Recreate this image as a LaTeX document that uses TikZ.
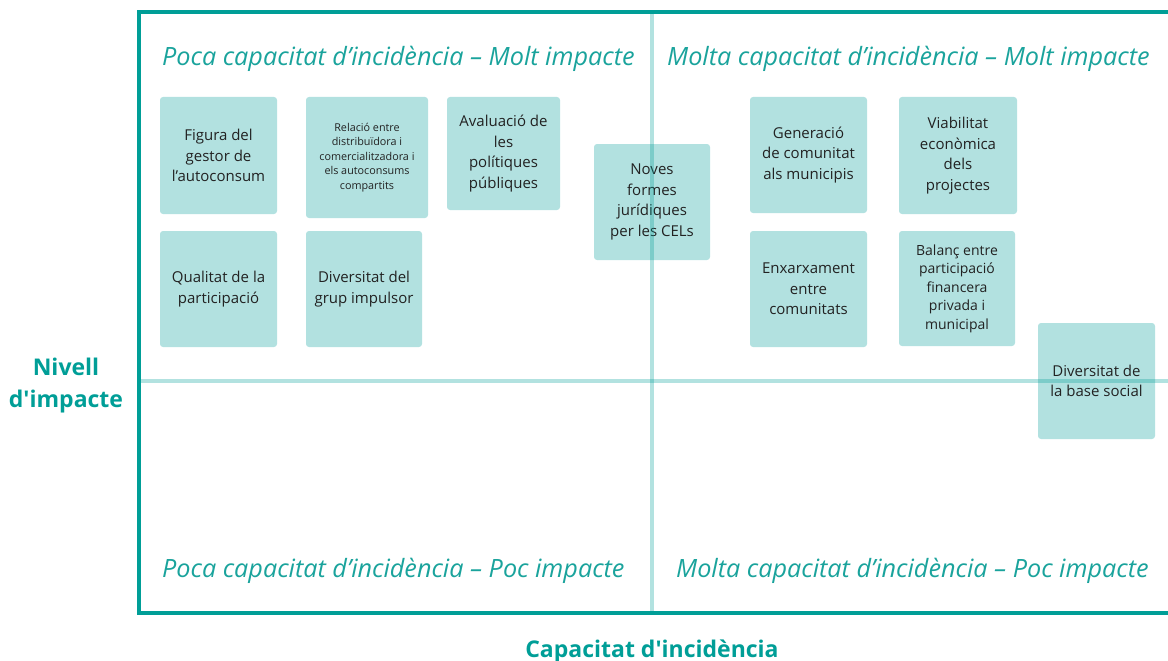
\documentclass[tikz,border=0pt]{standalone}
\usepackage{fontspec}
\setmainfont{Open Sans}
\definecolor{frameteal}{HTML}{009E97}
\definecolor{titleteal}{HTML}{1AA39C}
\definecolor{boxfill}{HTML}{B2E1E0}
\definecolor{boxtext}{HTML}{222222}

\begin{document}
\begin{tikzpicture}[x=1pt,y=-1pt]

        \useasboundingbox (0,0) rectangle (1168,661);

        \begin{scope}[every node/.style={fill=boxfill,rounded corners=3pt,align=center,
            text=boxtext,inner sep=0pt,font=\fontsize{15}{20.5}\selectfont}]
          \node[minimum width=117pt,minimum height=117pt] (gestor)   at (218.5,155.5) {Figura del\\gestor de\\l’autoconsum};
          \node[minimum width=122pt,minimum height=121pt,font=\fontsize{10.8}{14.6}\selectfont]
                                                          (relacio)  at (367,157.5)   {Relació entre\\distribuïdora i\\comercialitzadora i\\els autoconsums\\compartits};
          \node[minimum width=113pt,minimum height=113pt] (politiq)  at (503.5,153.5) {Avaluació de\\les\\polítiques\\públiques};
          \node[minimum width=116pt,minimum height=116pt] (formes)   at (652,202)     {Noves\\formes\\jurídiques\\per les CELs};
          \node[minimum width=117pt,minimum height=116pt] (qualitat) at (218.5,289)   {Qualitat de la\\participació};
          \node[minimum width=116pt,minimum height=116pt] (grup)     at (364,289)     {Diversitat del\\grup impulsor};
          \node[minimum width=117pt,minimum height=116pt] (generac)  at (808.5,155)   {Generació\\de comunitat\\als municipis};
          \node[minimum width=118pt,minimum height=117pt] (viabil)   at (958,155.5)   {Viabilitat\\econòmica\\dels\\projectes};
          \node[minimum width=117pt,minimum height=116pt] (xarxa)    at (808.5,289)   {Enxarxament\\entre\\comunitats};
          \node[minimum width=116pt,minimum height=115pt,font=\fontsize{14}{18.5}\selectfont]
                                                          (balanc)   at (957,288.5)   {Balanç entre\\participació\\financera\\privada i\\municipal};
          \node[minimum width=117pt,minimum height=116pt] (base)     at (1096.5,381)  {Diversitat de\\la base social};
        \end{scope}

        % quadrant dividers
        \draw[frameteal,opacity=0.3,line width=4pt] (652,14) -- (652,611);
        \draw[frameteal,opacity=0.3,line width=4pt] (141,381) -- (1168,381);

        % frame
        \draw[frameteal,line width=4.5pt] (1168,12) -- (139,12) -- (139,613) -- (1168,613);

        \begin{scope}[every node/.style={anchor=west,inner sep=0pt,text=titleteal,
            font=\fontsize{25.2}{30}\selectfont\itshape}]
          \node (q1) at (162,58.5)  {Poca capacitat d’incidència – Molt impacte};
          \node (q2) at (667,58.5)  {Molta capacitat d’incidència – Molt impacte};
          \node (q3) at (162,571) {Poca capacitat d’incidència – Poc impacte};
          \node (q4) at (676,571) {Molta capacitat d’incidència – Poc impacte};
        \end{scope}

        \begin{scope}[every node/.style={text=frameteal,inner sep=0pt,align=center}]
          \node[font=\fontsize{23}{32}\selectfont\bfseries] (impacte)  at (66,386) {Nivell\\d\textquotesingle impacte};
          \node[font=\fontsize{23}{26}\selectfont\bfseries] (capacitat) at (652,651) {Capacitat d\textquotesingle incidència};
        \end{scope}

      \end{tikzpicture}
\end{document}
